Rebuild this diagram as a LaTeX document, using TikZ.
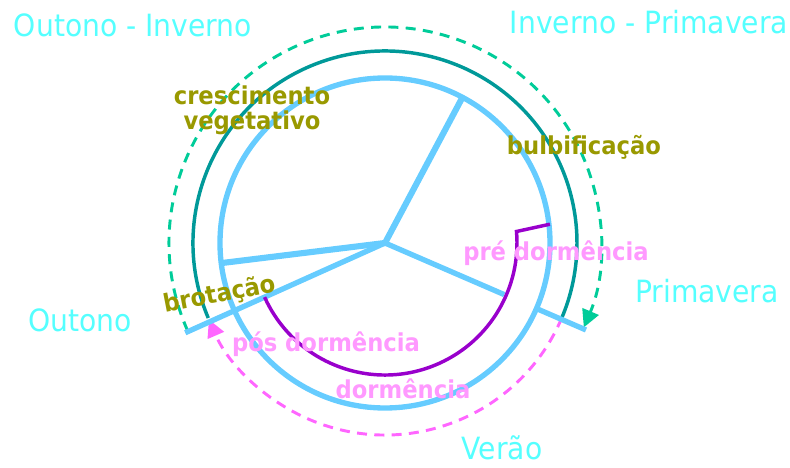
\documentclass[tikz,border=0pt]{standalone}
\usepackage{fontspec}
\setmainfont{DejaVu Sans}[FakeStretch=0.92]
\usetikzlibrary{arrows.meta}
\definecolor{azul}{HTML}{66CCFF}
\definecolor{petroleo}{HTML}{009999}
\definecolor{verdetrac}{HTML}{00CC99}
\definecolor{rosatrac}{HTML}{FF66FF}
\definecolor{roxo}{HTML}{9900CC}
\definecolor{ciano}{HTML}{55FFFF}
\definecolor{oliva}{HTML}{999900}
\definecolor{rosa}{HTML}{FF99FF}
\tikzset{
  estacao/.style={text=ciano, font=\fontsize{23}{25}\selectfont},
  fase/.style={text=oliva, font=\bfseries\fontsize{18.5}{19}\selectfont, align=center},
  repouso/.style={text=rosa, font=\bfseries\fontsize{18.5}{19}\selectfont},
  raio/.style={draw=azul, line width=4pt},
  ciclo/.style={line width=2.2pt, dash pattern=on 7.5pt off 5.5pt},
  ponta/.style={-{Triangle[length=13pt,width=13pt]}}
}
\begin{document}
\begin{tikzpicture}[scale=0.02636]
\useasboundingbox (-385,-225) rectangle (405,243);
\coordinate (c) at (0,0);
% ciclo
\draw[ciclo, draw=verdetrac, ponta] (204:216) arc[start angle=204, end angle=-23, radius=216];
\draw[ciclo, draw=rosatrac, ponta] (-23:192) arc[start angle=-23, end angle=-156.5, radius=192];
\draw[petroleo, line width=2.6pt] (203:192) arc[start angle=203, end angle=-23, radius=192];
% roda
\draw[raio] (c) circle (165);
\draw[raio, line width=4.6pt] (c) -- (62:165);
\draw[raio, line width=4.6pt] (c) -- (187:165);
\draw[raio] (c) -- (204.2:219);
\draw[raio] (c) -- (-23.4:130);
\draw[raio] (-23.4:166) -- (-23.4:219);
\draw[roxo, line width=2.6pt] (204.2:132) arc[start angle=204.2, end angle=365, radius=132] -- (6.5:166);
% estacoes
\node[estacao] (oi) at (-252,218) {Outono - Inverno};
\node[estacao] (ip) at (264,221) {Inverno - Primavera};
\node[estacao] (out) at (-305,-77) {Outono};
\node[estacao] (pri) at (322,-48) {Primavera};
\node[estacao] (ver) at (117,-205) {Verão};
% fases
\node[fase] (cres) at (-133,133) {crescimento\\vegetativo};
\node[fase] (bulb) at (199,96) {bulbificação};
\node[fase, rotate=11] (brot) at (-165,-52) {brotação};
\node[repouso] (pre) at (171,-10) {pré dormência};
\node[repouso] (pos) at (-59,-101) {pós dormência};
\node[repouso] (dor) at (18,-146) {dormência};
\end{tikzpicture}
\end{document}
